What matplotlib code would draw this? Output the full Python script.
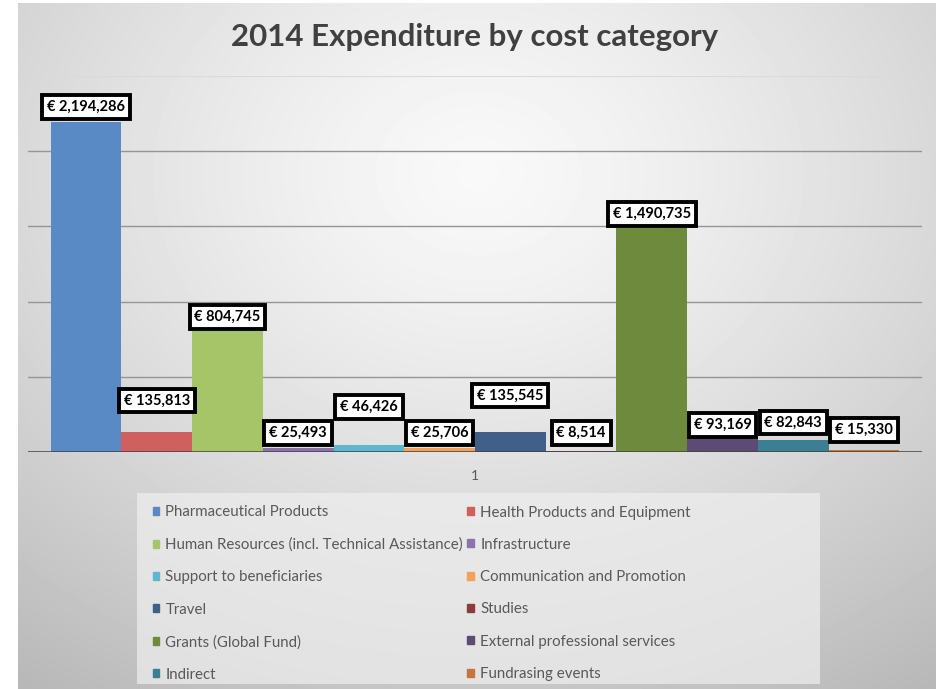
import numpy as np
import matplotlib
matplotlib.use("Agg")
import matplotlib.pyplot as plt
from matplotlib.patches import Patch, Rectangle

# Données 2014
categories = ["Pharmaceutical Products", "Health Products and Equipment",
              "Human Resources (incl. Technical Assistance)", "Infrastructure",
              "Support to beneficiaries", "Communication and Promotion",
              "Travel", "Studies", "Grants (Global Fund)",
              "External professional services", "Indirect", "Fundrasing events"]
values = [2194286, 135813, 804745, 25493, 46426, 25706,
          135545, 8514, 1490735, 93169, 82843, 15330]
colors = ["#5a8ac6", "#d0605d", "#a5c568", "#8c73ad", "#5cb7cf", "#f5a05a",
          "#40608a", "#8a3e3b", "#6e8a3c", "#5c4b72", "#3c7f92", "#c8743a"]
# décalage vertical des étiquettes (pixels au-dessus de la barre)
label_offsets = [15, 31, 14, 15, 38, 15, 36, 18, 14, 13, 17, 20]

plt.rcParams['font.family'] = ['Lato', 'DejaVu Sans']

W, H = 936, 689
fig = plt.figure(figsize=(W / 100, H / 100), dpi=100)
fig.patch.set_facecolor("white")

# fond dégradé radial
bg = fig.add_axes([18 / W, 0, 1 - 18 / W, 1 - 3 / H], zorder=0)
yy, xx = np.mgrid[0:686, 0:918]
r = np.sqrt(((xx - 460) / 680) ** 2 + ((yy - 170) / 540) ** 2)
shade = 0.975 - 0.21 * np.clip(r, 0, 1.3) ** 1.3
bg.imshow(shade, cmap="gray", vmin=0, vmax=1, aspect="auto", interpolation="bilinear")
bg.axis("off")

ax = fig.add_axes([28 / W, 1 - 452 / H, (922 - 28) / W, (452 - 76) / H], zorder=1)
ax.patch.set_alpha(0)

x = np.arange(len(values))
for i in range(len(values)):
    ax.bar(x[i], values[i], width=1.0, color=colors[i], zorder=2)
    ax.annotate("€ {:,}".format(values[i]), (x[i], values[i]),
                xytext=(0, label_offsets[i]), textcoords="offset pixels",
                ha="center", va="center", fontsize=10.5, fontweight="bold",
                color="black", zorder=5,
                bbox=dict(boxstyle="square,pad=0.33", fc="white", ec="black", lw=2.8))

ax.set_xlim(-0.5 - 0.32, len(values) - 0.5 + 0.32)
ax.set_ylim(0, 2500000)
for g in [500000, 1000000, 1500000, 2000000]:
    ax.axhline(g, color="#959595", lw=1, zorder=1)
ax.axhline(2500000, color="#dadada", lw=1.5, zorder=1)
ax.axhline(0, color="#404040", lw=1.8, zorder=3)
for s in ax.spines.values():
    s.set_visible(False)
ax.set_yticks([])
ax.set_xticks([(len(values) - 1) / 2])
ax.set_xticklabels(["1"], color="#595959", fontsize=10)
ax.tick_params(axis="x", length=0, pad=13)

fig.text(475 / W, 1 - 37 / H, "2014 Expenditure by cost category",
         ha="center", va="center", fontsize=22.5, fontweight="bold", color="#404040")

# légende
fig.patches.append(Rectangle((137 / W, 1 - 684 / H), (820 - 137) / W, (684 - 493) / H,
                             transform=fig.transFigure, fc="#efefef", ec="none",
                             alpha=0.7, zorder=1))
order = [0, 2, 4, 6, 8, 10, 1, 3, 5, 7, 9, 11]
handles = [Patch(color=colors[i], label=categories[i]) for i in order]
fig.legend(handles=handles, ncol=2, loc="upper left",
           bbox_to_anchor=(145 / W, 1 - 498 / H), frameon=False,
           fontsize=10.8, labelcolor="#595959", handlelength=0.45, handleheight=0.45,
           handletextpad=0.4, columnspacing=0.3, labelspacing=1.22, borderpad=0)

fig.savefig("out.png", dpi=100)
